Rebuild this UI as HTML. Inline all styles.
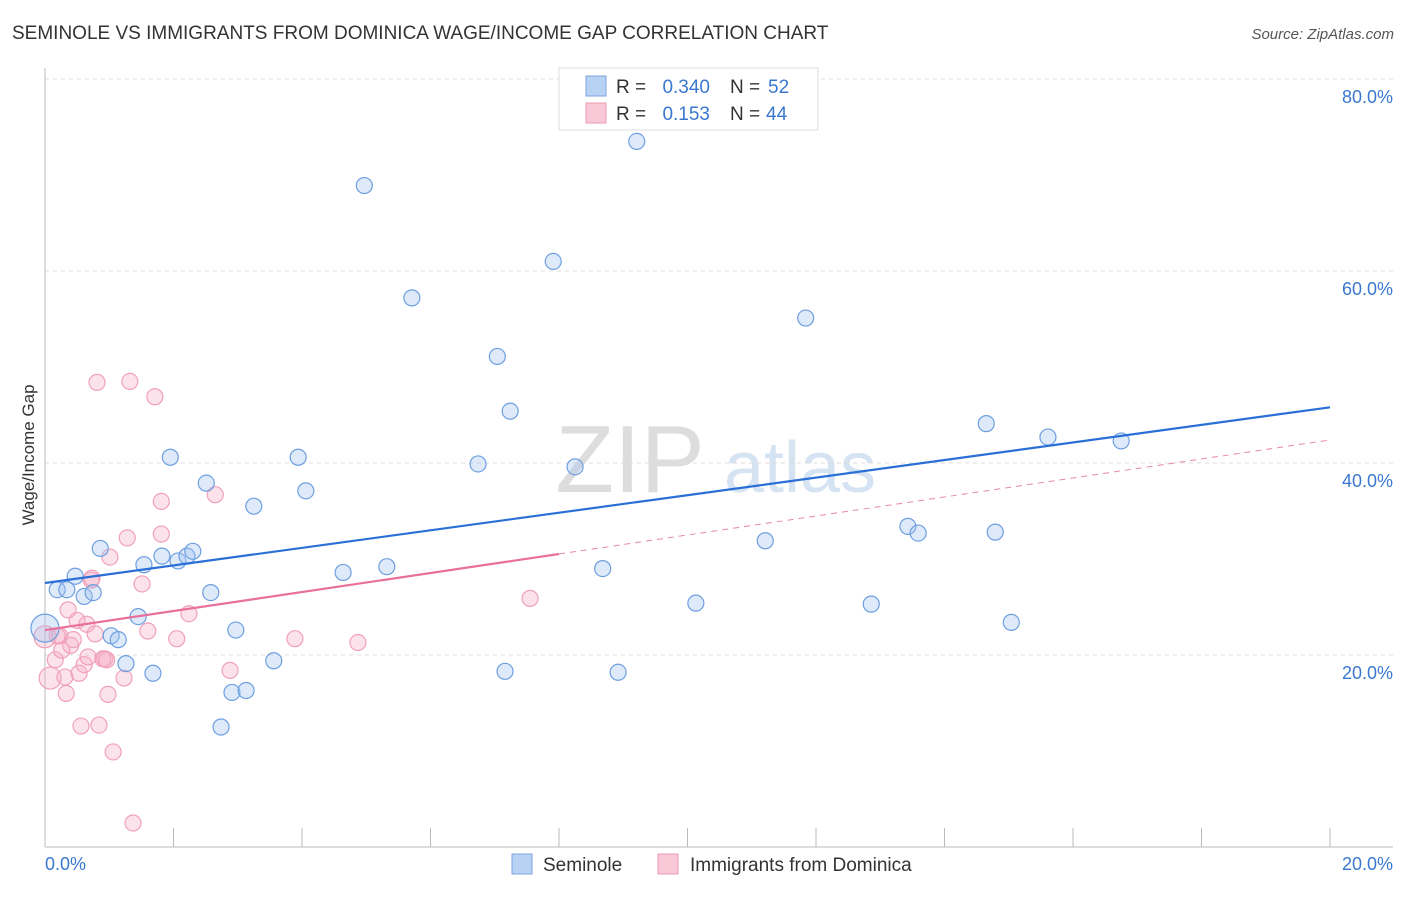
<!DOCTYPE html>
<html><head><meta charset="utf-8"><style>
body{margin:0;background:#fff;font-family:"Liberation Sans",sans-serif;}
svg text{font-family:"Liberation Sans",sans-serif;}
</style></head><body>
<svg id="chart" width="1406" height="892" xmlns="http://www.w3.org/2000/svg">
<text x="12" y="39" font-size="19" fill="#333">SEMINOLE VS IMMIGRANTS FROM DOMINICA WAGE/INCOME GAP CORRELATION CHART</text>
<text x="1394" y="39" font-size="15" fill="#555" font-style="italic" text-anchor="end">Source: ZipAtlas.com</text>
<g>
<text x="630" y="492" font-size="96" fill="#ddd" font-family="Liberation Serif" text-anchor="middle">ZIP</text>
<text x="800" y="492" font-size="72" fill="#d6e3f3" text-anchor="middle">atlas</text>
</g>
<g id="grid"></g>
<g id="axes"></g>
<g id="marks"></g>
<text transform="translate(34,455) rotate(-90)" font-size="17" fill="#333" text-anchor="middle">Wage/Income Gap</text>
<g>
<rect x="559" y="68" width="259" height="62" fill="#fff" stroke="#ddd"/>
<rect x="586" y="76" width="20" height="20" fill="#b8d2f3" stroke="#7aa6e0"/>
<text x="616" y="93" font-size="19" fill="#333">R =</text>
<text x="710" y="93" font-size="19" fill="#3a78d0" text-anchor="end">0.340</text>
<text x="730" y="93" font-size="19" fill="#333">N =</text>
<text x="768" y="93" font-size="19" fill="#3a78d0">52</text>
<rect x="586" y="103" width="20" height="20" fill="#f9c8d6" stroke="#ec9ab4"/>
<text x="616" y="120" font-size="19" fill="#333">R =</text>
<text x="710" y="120" font-size="19" fill="#3a78d0" text-anchor="end">0.153</text>
<text x="730" y="120" font-size="19" fill="#333">N =</text>
<text x="766" y="120" font-size="19" fill="#3a78d0">44</text>
</g>
<g>
<rect x="512" y="854" width="20" height="20" fill="#b8d2f3" stroke="#7aa6e0"/>
<text x="543" y="871" font-size="19" fill="#333">Seminole</text>
<rect x="658" y="854" width="20" height="20" fill="#f9c8d6" stroke="#ec9ab4"/>
<text x="690" y="871" font-size="19" fill="#333">Immigrants from Dominica</text>
</g>
</svg>
<script>
const blueX=[0,0.19,0.34,0.47,0.61,0.75,0.86,1.03,1.14,1.26,1.45,1.54,1.68,1.82,1.95,2.07,2.21,2.30,2.51,2.58,2.74,2.97,2.91,3.13,3.25,3.56,3.94,4.06,4.64,4.97,5.32,5.71,6.74,7.04,7.16,7.24,7.91,8.25,8.68,8.92,9.21,10.13,11.21,11.84,12.86,13.43,13.59,14.65,14.79,15.04,15.61,16.75];
const blueY=[22.8,26.8,26.8,28.2,26.1,26.5,31.1,22.0,21.6,19.1,24.0,29.4,18.1,30.3,40.6,29.8,30.3,30.8,37.9,26.5,12.5,22.6,16.1,16.3,35.5,19.4,40.6,37.1,28.6,68.9,29.2,57.2,39.9,51.1,18.3,45.4,61.0,39.6,29.0,18.2,73.5,25.4,31.9,55.1,25.3,33.4,32.7,44.1,32.8,23.4,42.7,42.3];
const pinkX=[0,0.08,0.16,0.23,0.31,0.33,0.36,0.40,0.44,0.50,0.53,0.56,0.61,0.65,0.67,0.72,0.73,0.78,0.81,0.84,0.90,0.93,0.98,1.01,1.06,1.23,1.28,1.32,1.37,1.51,1.60,1.71,1.81,1.81,2.05,2.24,2.65,2.88,3.89,4.87,7.55,0.19,0.26,0.96];
const pinkY=[21.9,17.6,19.5,22.0,17.7,16.0,24.7,21.0,21.6,23.6,18.1,12.6,19.0,23.2,19.8,27.8,28.0,22.2,48.4,12.7,19.6,19.6,15.9,30.2,9.9,17.6,32.2,48.5,2.5,27.4,22.5,46.9,36.0,32.6,21.7,24.3,36.7,18.4,21.7,21.3,25.9,22.0,20.5,19.5];
const blueTrend=[27.5,45.8];
const pinkTrend=[22.6,42.4];
const pinkSolidEnd=8;
const yTicks=[20,40,60,80];
const xTicks=[0,2,4,6,8,10,12,14,16,18,20];
const NS="http://www.w3.org/2000/svg";
const sx=v=>45+v*64.25, sy=v=>847-v*9.6;
function mk(tag,attrs,parent){const e=document.createElementNS(NS,tag);for(const k in attrs)e.setAttribute(k,attrs[k]);parent.appendChild(e);return e;}
const grid=document.getElementById('grid'),axes=document.getElementById('axes'),marks=document.getElementById('marks');
yTicks.forEach(t=>{
 const l=mk('line',{x1:45,x2:1393,y1:sy(t),y2:sy(t),stroke:'#ddd','stroke-dasharray':'4,4'},grid);
 
 
 const tx=mk('text',{x:1393,y:sy(t)+24,'font-size':18,fill:'#3a78d0','text-anchor':'end'},axes);
 tx.textContent=t.toFixed(1)+'%';
 
 
});
const ya=mk('line',{x1:45,x2:45,y1:68,y2:847,stroke:'#bbb'},axes);


const xa=mk('line',{x1:45,x2:1393,y1:847,y2:847,stroke:'#bbb'},axes);


xTicks.forEach(t=>{
 const l=mk('line',{x1:sx(t),x2:sx(t),y1:828,y2:847,stroke:'#bbb'},axes);
 
 
});
[[0,'start',45],[20,'end',1393]].forEach(([v,a,x])=>{
 const tx=mk('text',{x:x,y:870,'font-size':18,fill:'#3a78d0','text-anchor':a},axes);
 tx.textContent=v.toFixed(1)+'%';
 
 
});
pinkX.forEach((x,i)=>{
 const c=mk('circle',{cx:sx(x),cy:sy(pinkY[i]),r:i<2?11:8,fill:'rgba(246,176,198,0.35)',stroke:'#f0a0bb','stroke-width':1.2},marks);
 
 
});
blueX.forEach((x,i)=>{
 const c=mk('circle',{cx:sx(x),cy:sy(blueY[i]),r:i==0?14:8,fill:'rgba(160,196,240,0.35)',stroke:'#6d9fe0','stroke-width':1.2},marks);
 
 
});
const pAt=x=>pinkTrend[0]+(pinkTrend[1]-pinkTrend[0])*x/20;
const pd=mk('line',{x1:sx(pinkSolidEnd),y1:sy(pAt(pinkSolidEnd)),x2:sx(20),y2:sy(pinkTrend[1]),stroke:'#e887a8','stroke-width':1,'stroke-dasharray':'6,5'},marks);


const ps=mk('line',{x1:sx(0),y1:sy(pinkTrend[0]),x2:sx(pinkSolidEnd),y2:sy(pAt(pinkSolidEnd)),stroke:'#e8709a','stroke-width':2.2},marks);


const bt=mk('line',{x1:sx(0),y1:sy(blueTrend[0]),x2:sx(20),y2:sy(blueTrend[1]),stroke:'#2a6fd6','stroke-width':2.2},marks);


</script>
</body></html>
